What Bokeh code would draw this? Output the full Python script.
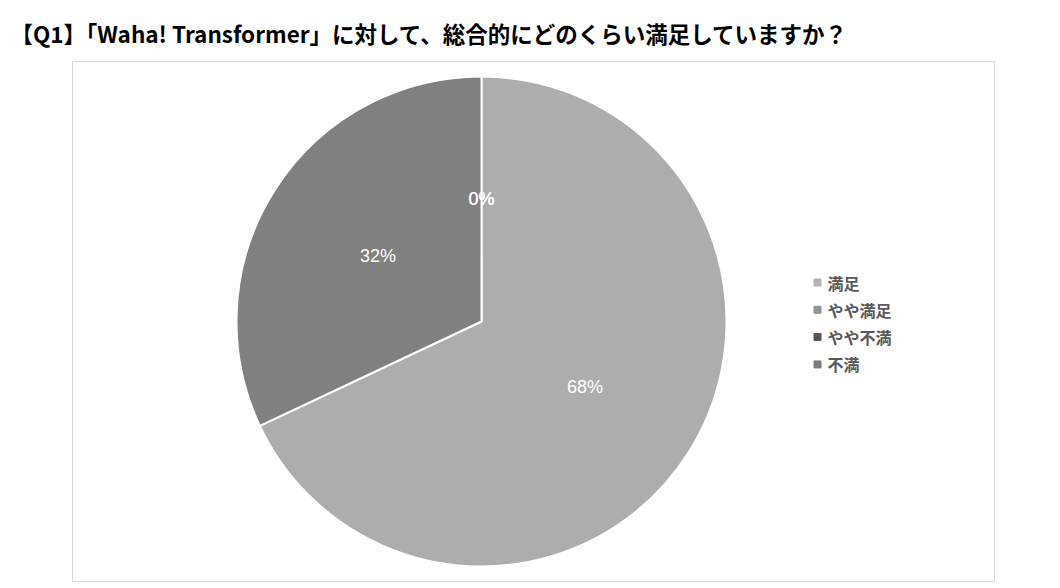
import math
from bokeh.plotting import figure
from bokeh.models import Range1d, ColumnDataSource
from bokeh.core.properties import value
from bokeh.embed import file_html
from bokeh.resources import INLINE

title_text = "【Q1】「Waha! Transformer」に対して、総合的にどのくらい満足していますか？"
categories = ["満足", "やや満足", "やや不満", "不満"]
values = [68, 32, 0, 0]
colors = ["#adadad", "#808080", "#4f4f4f", "#707070"]
legend_colors = ["#b3b3b3", "#939393", "#555555", "#7a7a7a"]

CX, CY, R = 481, -321, 245
LABEL_FRAC = 0.5

total = float(sum(values))
starts, ends, mids = [], [], []
cum = 0.0
for v in values:
    a0 = math.pi / 2 - cum / total * 2 * math.pi
    cum += v
    a1 = math.pi / 2 - cum / total * 2 * math.pi
    starts.append(a0)
    ends.append(a1)
    mids.append((a0 + a1) / 2)

p = figure(width=1044, height=582, output_backend="svg", toolbar_location=None,
           x_range=Range1d(72, 994), y_range=Range1d(-581, -61),
           min_border_left=72, min_border_right=50, min_border_top=61, min_border_bottom=1,
           title=title_text)
p.axis.visible = False
p.grid.visible = False
p.outline_line_color = "#d9d9d9"
p.outline_line_width = 1
p.background_fill_color = "white"
p.border_fill_color = "white"

p.title.text_font = "Noto Sans CJK JP"
p.title.text_font_size = "22.5px"
p.title.text_font_style = "bold"
p.title.text_color = "#000000"
p.title.align = "left"
p.title.offset = -62
p.title.standoff = 25

nz = [i for i, v in enumerate(values) if v > 0]
wsrc = ColumnDataSource(dict(
    start=[starts[i] for i in nz], end=[ends[i] for i in nz],
    color=[colors[i] for i in nz]))
p.wedge(x=CX, y=CY, radius=R, start_angle="start", end_angle="end", direction="clock",
        fill_color="color", line_color="white", line_width=2, source=wsrc)

lsrc = ColumnDataSource(dict(
    x=[CX + LABEL_FRAC * R * math.cos(m) for m in mids],
    y=[CY + LABEL_FRAC * R * math.sin(m) for m in mids],
    t=[f"{v}%" for v in values]))
p.text(x="x", y="y", text="t", source=lsrc, text_align="center", text_baseline="middle",
       text_color="white", text_font=value("Liberation Sans"), text_font_size="18px")

# legend
LX, LY0, LDY = 817, -282, -27.3
leg = ColumnDataSource(dict(
    x=[LX] * len(categories),
    tx=[LX + 10] * len(categories),
    y=[LY0 + i * LDY for i in range(len(categories))],
    c=legend_colors, t=categories))
p.scatter(x="x", y="y", marker="square", size=7, fill_color="c", line_color="c", source=leg)
p.text(x="tx", y="y", text="t", source=leg, text_align="left", text_baseline="middle",
       text_color="#595959", text_font=value("Noto Sans CJK JP"), text_font_size="16px",
       text_font_style="bold")

open("out.html", "w").write(file_html(p, INLINE))
